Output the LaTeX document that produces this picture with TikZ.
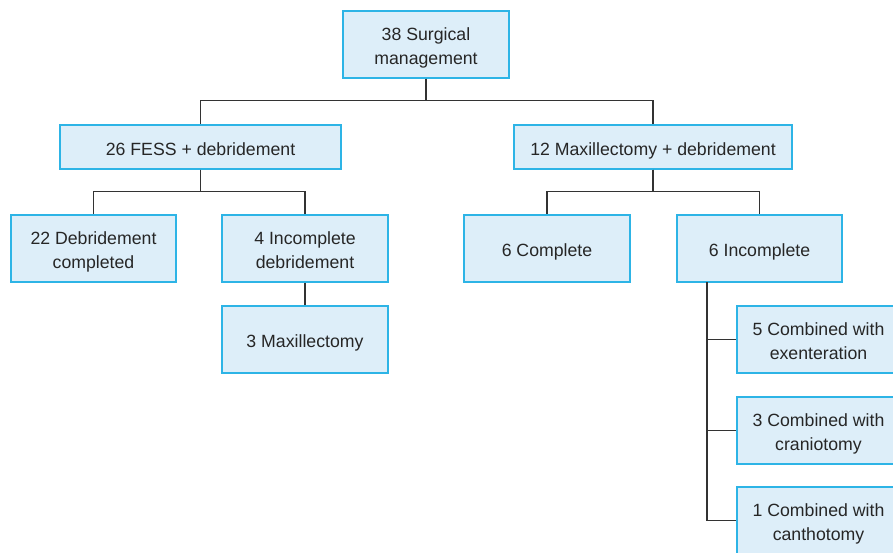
\documentclass[tikz,border=0pt]{standalone}
\usepackage{fontspec}
\setmainfont{Liberation Sans}
\definecolor{boxfill}{HTML}{DDEEF9}
\definecolor{boxline}{HTML}{2DB4E6}
\definecolor{conn}{HTML}{333333}
\newcommand{\boxtext}[1]{\raisebox{-3.5pt}[\height][\depth]{\begin{tabular}{@{}c@{}}#1\end{tabular}}}
\begin{document}
\begin{tikzpicture}[x=1pt,y=-1pt,
  box/.style={draw=boxline, fill=boxfill, line width=1.1pt,
    inner sep=0pt, font=\fontsize{17.7}{24}\selectfont, text=black!85},
  link/.style={draw=conn, line width=1.1pt}]
\useasboundingbox (0,0) rectangle (893,553);
\node[box, minimum width=166pt, minimum height=67pt] (top) at (426,44.5) {\boxtext{38 Surgical\\management}};
\node[box, minimum width=281pt, minimum height=44pt] (fess) at (200.5,147) {\boxtext{26 FESS + debridement}};
\node[box, minimum width=278pt, minimum height=44pt] (maxd) at (653,147) {\boxtext{12 Maxillectomy + debridement}};
\node[box, minimum width=165pt, minimum height=67pt] (deb) at (93.5,248.5) {\boxtext{22 Debridement\\completed}};
\node[box, minimum width=166pt, minimum height=67pt] (inc) at (305,248.5) {\boxtext{4 Incomplete\\debridement}};
\node[box, minimum width=166pt, minimum height=67pt] (max3) at (305,339.5) {\boxtext{3 Maxillectomy}};
\node[box, minimum width=166pt, minimum height=67pt] (comp) at (547,248.5) {\boxtext{6 Complete}};
\node[box, minimum width=165pt, minimum height=67pt] (inc6) at (759.5,248.5) {\boxtext{6 Incomplete}};
\node[box, minimum width=163pt, minimum height=67pt] (c5) at (818.5,339.5) {\boxtext{5 Combined with\\exenteration}};
\node[box, minimum width=163pt, minimum height=67pt] (c3) at (818.5,430.5) {\boxtext{3 Combined with\\craniotomy}};
\node[box, minimum width=163pt, minimum height=67pt] (c1) at (818.5,520.5) {\boxtext{1 Combined with\\canthotomy}};
\draw[link] (top.south) -- ++(0,22) -| (fess.north);
\draw[link] (top.south) -- ++(0,22) -| (maxd.north);
\draw[link] (fess.south) -- ++(0,22) -| (deb.north);
\draw[link] (fess.south) -- ++(0,22) -| (inc.north);
\draw[link] (maxd.south) -- ++(0,22) -| (comp.north);
\draw[link] (maxd.south) -- ++(0,22) -| (inc6.north);
\draw[link] (inc.south) -- (max3.north);
\coordinate (trunk) at (707,282);
\draw[link] (trunk) |- (c1.west);
\draw[link] (trunk |- c5.west) -- (c5.west);
\draw[link] (trunk |- c3.west) -- (c3.west);
\end{tikzpicture}
\end{document}
